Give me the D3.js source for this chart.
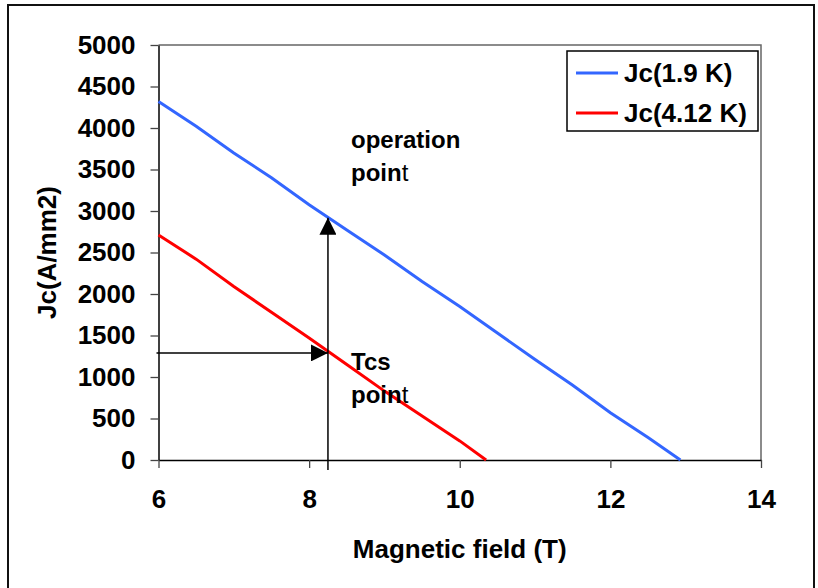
<!DOCTYPE html>
<html>
<head>
<meta charset="utf-8">
<script src="https://cdn.jsdelivr.net/npm/d3@7"></script>
<style>
  body { margin: 0; background: #fff; }
  text { font-family: "Liberation Sans", Arial, sans-serif; font-weight: bold; fill: #000; }
</style>
</head>
<body>
<div id="chart"></div>
<script>
// data

const fieldBlue = [6.0, 6.5, 7.0, 7.5, 8.0, 8.5, 9.0, 9.5, 10.0, 10.5, 11.0, 11.5, 12.0, 12.5, 12.93];
const jcBlue = [4320, 4020, 3700, 3400, 3075, 2770, 2470, 2150, 1850, 1530, 1210, 900, 570, 270, 0];

const fieldRed = [6.0, 6.5, 7.0, 7.5, 8.0, 8.5, 9.0, 9.5, 10.0, 10.35];
const jcRed = [2710, 2420, 2090, 1780, 1470, 1150, 830, 530, 230, 0];

const xTicks = [6, 8, 10, 12, 14];
const yTicks = [0, 500, 1000, 1500, 2000, 2500, 3000, 3500, 4000, 4500, 5000];

const seriesNames = ["Jc(1.9 K)", "Jc(4.12 K)"];
const seriesColors = ["#3366ff", "#ff0000"];

// operating field and the two marked points
const opField = 8.25;
const opJc = 2920;
const tcsJc = 1290;

const width = 818;
const height = 588;
const margin = { top: 45, right: 57, bottom: 128, left: 158.5 };

const svg = d3.select("#chart").append("svg")
  .attr("width", width)
  .attr("height", height);

// outer frame (bottom edge is off the picture)
svg.append("rect")
  .attr("x", 8).attr("y", 5)
  .attr("width", 806).attr("height", 620)
  .attr("fill", "none")
  .attr("stroke", "#111")
  .attr("stroke-width", 2);

const x = d3.scaleLinear([6, 14], [margin.left, width - margin.right]);
const y = d3.scaleLinear([0, 5000], [height - margin.bottom, margin.top]);

// plot frame, top and right
svg.append("path")
  .attr("d", `M${x(6)},${y(5000)}H${x(14)}V${y(0)}`)
  .attr("fill", "none")
  .attr("stroke", "#666")
  .attr("stroke-width", 1.5);

const yAxis = svg.append("g")
  .attr("transform", `translate(${x(6)},0)`)
  .call(d3.axisLeft(y).tickValues(yTicks).tickFormat(d3.format("d"))
    .tickSize(8).tickSizeOuter(0).tickPadding(15));

const xAxis = svg.append("g")
  .attr("transform", `translate(0,${y(0)})`)
  .call(d3.axisBottom(x).tickValues(xTicks).tickFormat(d3.format("d"))
    .tickSize(8).tickSizeOuter(0).tickPadding(22));

[xAxis, yAxis].forEach((g) => {
  g.select(".domain").attr("stroke", "#000").attr("stroke-width", 1.5);
  g.selectAll(".tick line").attr("stroke", "#444").attr("stroke-width", 1.3);
  g.selectAll(".tick text")
    .attr("fill", "#000")
    .style("font-size", "26px")
    .style("font-family", '"Liberation Sans", Arial, sans-serif')
    .style("font-weight", "bold");
});

// axis titles
svg.append("text")
  .attr("x", x(10))
  .attr("y", 558)
  .attr("text-anchor", "middle")
  .style("font-size", "26px")
  .text("Magnetic field (T)");

svg.append("text")
  .attr("transform", `translate(56,${y(2500)}) rotate(-90)`)
  .attr("text-anchor", "middle")
  .style("font-size", "26px")
  .text("Jc(A/mm2)");

// curves
const line = d3.line().x((d) => x(d[0])).y((d) => y(d[1]));
const series = [
  d3.zip(fieldBlue, jcBlue),
  d3.zip(fieldRed, jcRed)
];

svg.append("g")
  .selectAll("path")
  .data(series)
  .join("path")
  .attr("d", line)
  .attr("fill", "none")
  .attr("stroke", (d, i) => seriesColors[i])
  .attr("stroke-width", 3);

// arrows
svg.append("defs").append("marker")
  .attr("id", "head")
  .attr("viewBox", "0 0 10 10")
  .attr("refX", 10).attr("refY", 5)
  .attr("markerWidth", 17).attr("markerHeight", 17)
  .attr("markerUnits", "userSpaceOnUse")
  .attr("orient", "auto")
  .append("path")
  .attr("d", "M0,0L10,5L0,10Z")
  .attr("fill", "#000");

svg.append("line")
  .attr("x1", x(opField)).attr("y1", y(0) + 10)
  .attr("x2", x(opField)).attr("y2", y(opJc))
  .attr("stroke", "#000")
  .attr("stroke-width", 1.5)
  .attr("marker-end", "url(#head)");

svg.append("line")
  .attr("x1", x(6) - 2).attr("y1", y(tcsJc))
  .attr("x2", x(opField)).attr("y2", y(tcsJc))
  .attr("stroke", "#000")
  .attr("stroke-width", 1.5)
  .attr("marker-end", "url(#head)");

// annotations ("t" of point is not bold in the original)
function label(lines, x0, y0) {
  lines.forEach((l, i) => {
    const t = svg.append("text")
      .attr("x", x0)
      .attr("y", y0 + i * 33)
      .style("font-size", "24px");
    if (l === "point") {
      t.append("tspan").text("poin");
      t.append("tspan").style("font-weight", "normal").text("t");
    } else {
      t.text(l);
    }
  });
}
label(["operation", "point"], 351, 148);
label(["Tcs", "point"], 351, 370);

// legend
const legend = svg.append("g").attr("transform", "translate(567,51)");
legend.append("rect")
  .attr("width", 191).attr("height", 80)
  .attr("fill", "#fff")
  .attr("stroke", "#000")
  .attr("stroke-width", 1.5);

const rows = legend.selectAll("g.row")
  .data(seriesNames)
  .join("g")
  .attr("class", "row")
  .attr("transform", (d, i) => `translate(0,${22 + i * 40})`);

rows.append("line")
  .attr("x1", 9).attr("x2", 51)
  .attr("stroke", (d, i) => seriesColors[i])
  .attr("stroke-width", 3);

rows.append("text")
  .attr("x", 57)
  .attr("dy", "0.36em")
  .style("font-size", "26px")
  .text((d) => d);
</script>
</body>
</html>
